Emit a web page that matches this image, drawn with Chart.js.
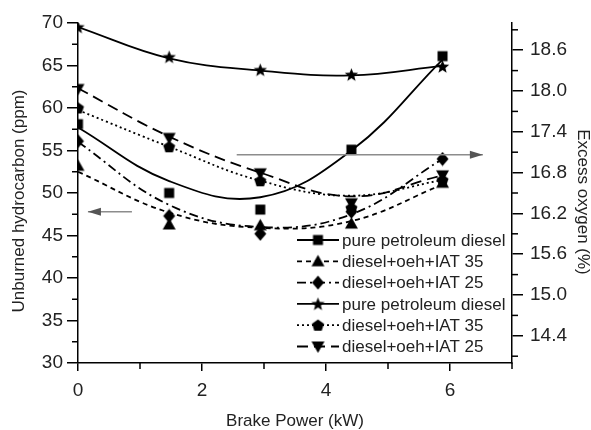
<!DOCTYPE html>
<html>
<head>
<meta charset="utf-8">
<script src="https://cdn.jsdelivr.net/npm/chart.js@4.4.1/dist/chart.umd.min.js"></script>
<style>
  html, body { margin: 0; padding: 0; background: #fff; }
  #wrap { width: 591px; height: 430px; }
</style>
</head>
<body>
<div id="wrap"><canvas id="chart" width="591" height="430"></canvas></div>
<script>
// Brake power (kW) for the five test points
const X_KW = [0, 1.47, 2.94, 4.41, 5.88];
const X_TICKS = [0, 2, 4, 6];
const O2_TICKS = [14.4, 15.0, 15.6, 16.2, 16.8, 17.4, 18.0, 18.6];

// measured points - unburned HC (ppm), left axis
const HC_PURE = [58.1, 50.0, 48.05, 55.1, 66.1];
const HC_IAT35 = [53.2, 46.3, 46.2, 46.4, 51.2];
const HC_IAT25 = [56.1, 47.3, 45.2, 47.8, 54.0];
// measured points - excess oxygen (%), right axis
const O2_PURE = [18.94, 18.5, 18.31, 18.24, 18.36];
const O2_IAT35 = [17.75, 17.18, 16.68, 16.28, 16.69];
const O2_IAT25 = [18.03, 17.31, 16.79, 16.35, 16.76];

// the fitted curves at the same powers
const HC_PURE_FIT = [57.7, 51.4, 49.5, 55.0, 65.7];
const HC_IAT35_FIT = [52.5, 47.7, 45.9, 46.7, 51.0];
const HC_IAT25_FIT = [56.0, 48.6, 46.0, 47.5, 54.0];
const O2_PURE_FIT = [18.94, 18.48, 18.3, 18.23, 18.37];
const O2_IAT35_FIT = [17.72, 17.18, 16.68, 16.46, 16.69];
const O2_IAT25_FIT = [18.04, 17.33, 16.8, 16.45, 16.76];

const LEGEND_LABELS = [
  "pure petroleum diesel",
  "diesel+oeh+IAT 35",
  "diesel+oeh+IAT 25",
  "pure petroleum diesel",
  "diesel+oeh+IAT 35",
  "diesel+oeh+IAT 25",
];

const FONT = '"Liberation Sans", Arial, sans-serif';

// little black marker images (Chart.js has no filled star / pentagon)
function makeMarker(shape) {
  const s = 15, c = s / 2;
  const cv = document.createElement("canvas");
  cv.width = s;
  cv.height = s;
  const g = cv.getContext("2d");
  g.fillStyle = "#000";
  g.beginPath();
  if (shape === "square") {
    g.rect(c - 5, c - 5, 10, 10);
  } else if (shape === "tri") {
    g.moveTo(c, c - 6.5); g.lineTo(c + 6.5, c + 5); g.lineTo(c - 6.5, c + 5);
  } else if (shape === "triDown") {
    g.moveTo(c, c + 6.5); g.lineTo(c + 6.5, c - 5); g.lineTo(c - 6.5, c - 5);
  } else if (shape === "diamond") {
    g.moveTo(c, c - 7); g.lineTo(c + 6, c); g.lineTo(c, c + 7); g.lineTo(c - 6, c);
  } else if (shape === "star") {
    for (let i = 0; i < 10; i++) {
      const r = i % 2 === 0 ? 7 : 3;
      const a = -Math.PI / 2 + (i * Math.PI) / 5;
      const px = c + r * Math.cos(a), py = c + 0.5 + r * Math.sin(a);
      i === 0 ? g.moveTo(px, py) : g.lineTo(px, py);
    }
  } else if (shape === "pentagon") {
    for (let i = 0; i < 5; i++) {
      const a = -Math.PI / 2 + (i * 2 * Math.PI) / 5;
      const px = c + 6.3 * Math.cos(a), py = c + 0.5 + 6.3 * Math.sin(a);
      i === 0 ? g.moveTo(px, py) : g.lineTo(px, py);
    }
  }
  g.closePath();
  g.fill();
  return cv;
}

const SERIES = [
  { pts: HC_PURE, fit: HC_PURE_FIT, axis: "y", marker: makeMarker("square"), dash: [] },
  { pts: HC_IAT35, fit: HC_IAT35_FIT, axis: "y", marker: makeMarker("tri"), dash: [5, 4] },
  { pts: HC_IAT25, fit: HC_IAT25_FIT, axis: "y", marker: makeMarker("diamond"), dash: [9, 4, 2, 4] },
  { pts: O2_PURE, fit: O2_PURE_FIT, axis: "y2", marker: makeMarker("star"), dash: [] },
  { pts: O2_IAT35, fit: O2_IAT35_FIT, axis: "y2", marker: makeMarker("pentagon"), dash: [2, 3] },
  { pts: O2_IAT25, fit: O2_IAT25_FIT, axis: "y2", marker: makeMarker("triDown"), dash: [11, 6] },
];

function toXY(arr) {
  return X_KW.map((x, i) => ({ x, y: arr[i] }));
}

const datasets = [];
SERIES.forEach((s, i) => {
  datasets.push({
    label: LEGEND_LABELS[i],
    data: toXY(s.pts),
    yAxisID: s.axis,
    showLine: false,
    pointStyle: s.marker,
    pointRadius: 6,
    order: 0,
  });
  datasets.push({
    label: LEGEND_LABELS[i] + " fit",
    data: toXY(s.fit),
    yAxisID: s.axis,
    borderColor: "#000",
    borderWidth: 1.8,
    borderDash: s.dash,
    pointRadius: 0,
    tension: 0.4,
    fill: false,
    order: 1,
  });
});

function line(ctx, x1, y1, x2, y2) {
  ctx.beginPath();
  ctx.moveTo(x1, y1);
  ctx.lineTo(x2, y2);
  ctx.stroke();
}

function arrow(ctx, x1, x2, y, headAtEnd) {
  ctx.strokeStyle = "#8c8c8c";
  ctx.fillStyle = "#555";
  ctx.lineWidth = 1.5;
  line(ctx, x1, y, x2, y);
  const tip = headAtEnd ? x2 : x1;
  const dir = headAtEnd ? -1 : 1;
  ctx.beginPath();
  ctx.moveTo(tip, y);
  ctx.lineTo(tip + dir * 13, y - 4);
  ctx.lineTo(tip + dir * 13, y + 4);
  ctx.closePath();
  ctx.fill();
}

const extras = {
  id: "extras",
  afterDraw(chart) {
    const { ctx, chartArea: a, scales } = chart;
    const { x, y, y2 } = scales;
    ctx.save();

    // minor ticks
    ctx.strokeStyle = "#000";
    ctx.lineWidth = 1.5;
    for (let v = 32.5; v < 70; v += 5) {
      const py = y.getPixelForValue(v);
      line(ctx, a.left - 6, py, a.left, py);
    }
    for (let k = 0; k < 9; k++) {
      const py = y2.getPixelForValue(14.1 + k * 0.6);
      line(ctx, a.right, py, a.right + 6, py);
    }
    for (let v = 1; v <= 7; v += 2) {
      const px = x.getPixelForValue(v);
      line(ctx, px, a.bottom, px, a.bottom + 6);
    }

    // arrows pointing at the axis each group belongs to
    arrow(ctx, x.getPixelForValue(2.56), x.getPixelForValue(6.53), y.getPixelForValue(54.5), true);
    arrow(ctx, x.getPixelForValue(0.16), x.getPixelForValue(0.87), y.getPixelForValue(47.8), false);

    // y axis titles
    ctx.fillStyle = "#222";
    ctx.font = "17px " + FONT;
    ctx.textAlign = "center";
    ctx.textBaseline = "middle";
    ctx.save();
    ctx.translate(19, 201);
    ctx.rotate(-Math.PI / 2);
    ctx.fillText("Unburned hydrocarbon (ppm)", 0, 0);
    ctx.restore();
    ctx.save();
    ctx.translate(583, 202);
    ctx.rotate(Math.PI / 2);
    ctx.fillText("Excess oxygen (%)", 0, 0);
    ctx.restore();

    // legend
    ctx.textAlign = "left";
    SERIES.forEach((s, i) => {
      const ry = 240 + i * 21.3;
      ctx.strokeStyle = "#000";
      ctx.lineWidth = 1.8;
      ctx.setLineDash(s.dash);
      line(ctx, 297, ry, 339, ry);
      ctx.setLineDash([]);
      ctx.drawImage(s.marker, 318 - s.marker.width / 2, ry - s.marker.height / 2);
      ctx.fillStyle = "#222";
      ctx.fillText(LEGEND_LABELS[i], 342, ry + 1);
    });

    ctx.restore();
  },
};

const tickFont = { family: FONT, size: 19 };
const axisGrid = (len) => ({
  drawOnChartArea: false,
  drawTicks: true,
  tickLength: len,
  color: "#000",
  lineWidth: 1.5,
});
const axisBorder = { display: true, color: "#000", width: 1.5 };

new Chart(document.getElementById("chart"), {
  type: "line",
  data: { datasets },
  plugins: [extras],
  options: {
    responsive: false,
    animation: false,
    devicePixelRatio: 1,
    layout: { padding: { top: 23, left: 0, right: 0, bottom: 0 } },
    plugins: {
      legend: { display: false },
      tooltip: { enabled: false },
    },
    scales: {
      x: {
        type: "linear",
        min: 0,
        max: 7,
        afterBuildTicks: (scale) => {
          scale.ticks = X_TICKS.map((v) => ({ value: v }));
        },
        afterFit: (scale) => { scale.height = 67; },
        ticks: { font: tickFont, color: "#222", padding: 8, maxRotation: 0 },
        grid: axisGrid(8),
        border: axisBorder,
        title: {
          display: true,
          text: "Brake Power (kW)",
          color: "#222",
          font: { family: FONT, size: 17, lineHeight: 1 },
          padding: { top: 0, bottom: 0 },
        },
      },
      y: {
        type: "linear",
        position: "left",
        min: 30,
        max: 70,
        afterFit: (scale) => { scale.width = 78; },
        ticks: { stepSize: 5, font: tickFont, color: "#222", padding: 4 },
        grid: axisGrid(11),
        border: axisBorder,
      },
      y2: {
        type: "linear",
        position: "right",
        min: 14,
        max: 19,
        afterBuildTicks: (scale) => {
          scale.ticks = O2_TICKS.map((v) => ({ value: v }));
        },
        afterFit: (scale) => { scale.width = 79; },
        ticks: {
          font: tickFont,
          color: "#222",
          padding: 7,
          callback: (v) => Number(v).toFixed(1),
        },
        grid: axisGrid(11),
        border: axisBorder,
      },
    },
  },
});
</script>
</body>
</html>
